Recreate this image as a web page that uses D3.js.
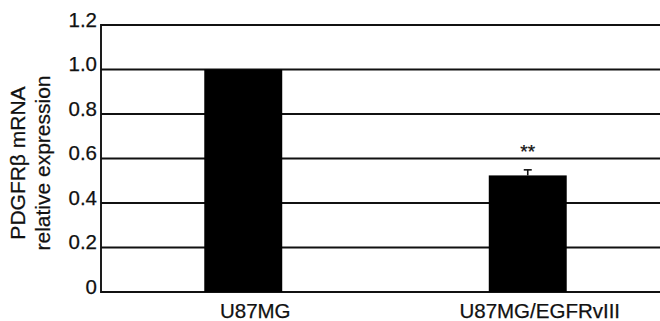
<!DOCTYPE html>
<html>
<head>
<meta charset="utf-8">
<script src="https://cdn.jsdelivr.net/npm/d3@7"></script>
<style>
  html, body { margin: 0; padding: 0; background: #fff; }
  svg { display: block; font-family: "Liberation Sans", Arial, sans-serif; }
  text { stroke: #111; stroke-width: 0.25; }
</style>
</head>
<body>
<svg id="chart" width="660" height="321"></svg>
<script>
const categories = ["U87MG", "U87MG/EGFRvIII"];
const values = [1.0, 0.524];
const errors = [0, 0.025];
const significance = ["", "**"];
const yTicks = [0, 0.2, 0.4, 0.6, 0.8, 1.0, 1.2];
const yTickLabels = ["0", "0.2", "0.4", "0.6", "0.8", "1.0", "1.2"];
const yLabelLines = ["PDGFRβ mRNA", "relative expression"];

const svg = d3.select("#chart");
const plotLeft = 101, plotRight = 660, plotTop = 25, plotBottom = 292;

const y = d3.scaleLinear().domain([0, 1.2]).range([plotBottom, plotTop]);
const x = d3.scaleBand().domain(categories).range([plotLeft, 670])
  .paddingInner(0.726).paddingOuter(0.363);

// gridlines
svg.append("g").selectAll("line").data(yTicks).join("line")
  .attr("x1", plotLeft).attr("x2", plotRight)
  .attr("y1", d => y(d)).attr("y2", d => y(d))
  .attr("stroke", "#111").attr("stroke-width", 1.9);

// y axis line
svg.append("line").attr("x1", plotLeft).attr("x2", plotLeft)
  .attr("y1", y(1.2) - 0.9).attr("y2", y(0) + 0.9)
  .attr("stroke", "#111").attr("stroke-width", 1.9);

// tick labels
svg.append("g").selectAll("text").data(yTicks).join("text")
  .attr("x", 97)
  .attr("y", d => y(d) + 1.5)
  .attr("text-anchor", "end")
  .attr("font-size", 20.5)
  .attr("fill", "#111")
  .text((d, i) => yTickLabels[i]);

// bars
svg.append("g").selectAll("rect").data(values).join("rect")
  .attr("x", (d, i) => x(categories[i]))
  .attr("width", x.bandwidth())
  .attr("y", d => y(d))
  .attr("height", d => y(0) - y(d))
  .attr("fill", "#000");

// error bars
const eg = svg.append("g").attr("stroke", "#111").attr("stroke-width", 1.6);
values.forEach((v, i) => {
  if (!errors[i]) return;
  const cx = x(categories[i]) + x.bandwidth() / 2;
  eg.append("line").attr("x1", cx).attr("x2", cx).attr("y1", y(v)).attr("y2", y(v + errors[i]));
  eg.append("line").attr("x1", cx - 4).attr("x2", cx + 4).attr("y1", y(v + errors[i])).attr("y2", y(v + errors[i]));
});

// significance
svg.append("g").selectAll("text").data(significance).join("text")
  .attr("x", (d, i) => x(categories[i]) + x.bandwidth() / 2)
  .attr("y", (d, i) => y(values[i] + errors[i]) - 12)
  .attr("text-anchor", "middle")
  .attr("font-size", 19)
  .attr("fill", "#111")
  .text(d => d);

// x labels
svg.append("g").selectAll("text").data(categories).join("text")
  .attr("x", d => x(d) + x.bandwidth() / 2 + 12)
  .attr("y", 318)
  .attr("text-anchor", "middle")
  .attr("font-size", 20.5)
  .attr("fill", "#111")
  .text(d => d);

// y label
const yl = svg.append("text")
  .attr("transform", "translate(0,163) rotate(-90)")
  .attr("text-anchor", "middle")
  .attr("font-size", 21)
  .attr("fill", "#111");
yLabelLines.forEach((t, i) => {
  yl.append("tspan").attr("x", 0).attr("y", 25 + i * 25).text(t);
});
</script>
</body>
</html>
